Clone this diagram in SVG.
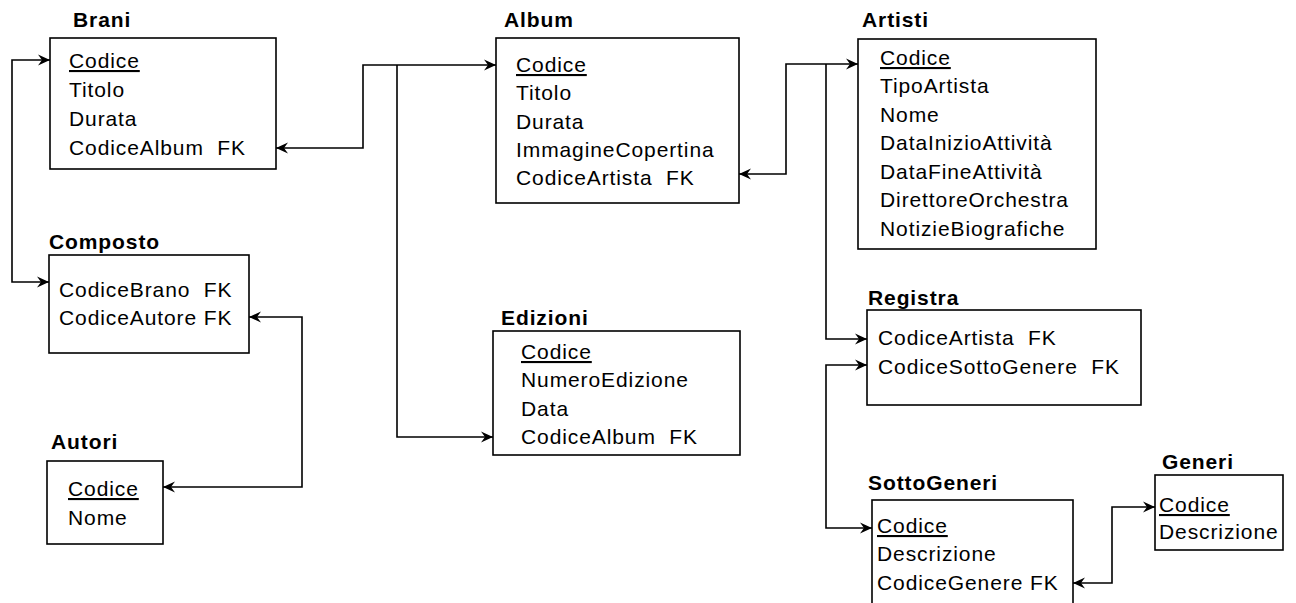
<svg xmlns="http://www.w3.org/2000/svg" width="1296" height="603" viewBox="0 0 1296 603">
<defs>
<style>
text{font-family:"Liberation Sans",Arial,sans-serif;font-size:21px;letter-spacing:0.9px;fill:#000}
.t{font-weight:bold}
.u{text-decoration:underline}
rect{fill:#fff;stroke:#000;stroke-width:1.6}
.c path{fill:none;stroke:#000;stroke-width:1.6}
</style>
<marker id="a" viewBox="0 0 12 12" refX="12" refY="6" markerWidth="12" markerHeight="12" markerUnits="userSpaceOnUse" orient="auto-start-reverse">
<path d="M0,0.5 L12,6 L0,11.5 L4,6 z" fill="#000"/>
</marker>
</defs>
<rect x="0" y="0" width="1296" height="603" style="stroke:none;fill:#fff"/>
<g id="Brani">
<text class="t" x="73" y="27">Brani</text>
<rect x="50" y="38" width="226" height="131"/>
<text class="u" x="69" y="68">Codice</text>
<text x="69" y="97">Titolo</text>
<text x="69" y="126">Durata</text>
<text x="69" y="155" xml:space="preserve">CodiceAlbum  FK</text>
</g>
<g id="Album">
<text class="t" x="504" y="27">Album</text>
<rect x="496" y="38" width="243" height="165"/>
<text class="u" x="516" y="72">Codice</text>
<text x="516" y="100">Titolo</text>
<text x="516" y="129">Durata</text>
<text x="516" y="157">ImmagineCopertina</text>
<text x="516" y="185" xml:space="preserve">CodiceArtista  FK</text>
</g>
<g id="Artisti">
<text class="t" x="862" y="27">Artisti</text>
<rect x="858" y="39" width="238" height="210"/>
<text class="u" x="880" y="65">Codice</text>
<text x="880" y="93">TipoArtista</text>
<text x="880" y="122">Nome</text>
<text x="880" y="150">DataInizioAttività</text>
<text x="880" y="179">DataFineAttività</text>
<text x="880" y="207">DirettoreOrchestra</text>
<text x="880" y="236">NotizieBiografiche</text>
</g>
<g id="Composto">
<text class="t" x="49" y="249">Composto</text>
<rect x="49" y="255" width="200" height="98"/>
<text x="59" y="297" xml:space="preserve">CodiceBrano  FK</text>
<text x="59" y="325">CodiceAutore FK</text>
</g>
<g id="Autori">
<text class="t" x="51" y="449">Autori</text>
<rect x="47" y="461" width="116" height="83"/>
<text class="u" x="68" y="496">Codice</text>
<text x="68" y="525">Nome</text>
</g>
<g id="Edizioni">
<text class="t" x="501" y="325">Edizioni</text>
<rect x="493" y="331" width="247" height="124"/>
<text class="u" x="521" y="359">Codice</text>
<text x="521" y="387">NumeroEdizione</text>
<text x="521" y="416">Data</text>
<text x="521" y="444" xml:space="preserve">CodiceAlbum  FK</text>
</g>
<g id="Registra">
<text class="t" x="868" y="305">Registra</text>
<rect x="867" y="310" width="274" height="95"/>
<text x="878" y="345" xml:space="preserve">CodiceArtista  FK</text>
<text x="878" y="374" xml:space="preserve">CodiceSottoGenere  FK</text>
</g>
<g id="SottoGeneri">
<text class="t" x="868" y="490">SottoGeneri</text>
<rect x="872" y="500" width="201" height="120"/>
<text class="u" x="877" y="533">Codice</text>
<text x="877" y="561">Descrizione</text>
<text x="877" y="590">CodiceGenere FK</text>
</g>
<g id="Generi">
<text class="t" x="1162" y="469">Generi</text>
<rect x="1155" y="475" width="128" height="75"/>
<text class="u" x="1159" y="512">Codice</text>
<text x="1159" y="539">Descrizione</text>
</g>
<g class="c" id="connectors">
<path d="M49,282 H12 V60 H50" marker-start="url(#a)" marker-end="url(#a)"/>
<path d="M276,148 H363 V65 H496" marker-start="url(#a)" marker-end="url(#a)"/>
<path d="M397,65 V437 H493" marker-end="url(#a)"/>
<path d="M739,174 H786 V64 H858" marker-start="url(#a)" marker-end="url(#a)"/>
<path d="M826,64 V339 H867" marker-end="url(#a)"/>
<path d="M867,365 H826 V528 H872" marker-start="url(#a)" marker-end="url(#a)"/>
<path d="M1073,583 H1112 V507 H1155" marker-start="url(#a)" marker-end="url(#a)"/>
<path d="M249,317 H302 V487 H163" marker-start="url(#a)" marker-end="url(#a)"/>
</g>
</svg>
